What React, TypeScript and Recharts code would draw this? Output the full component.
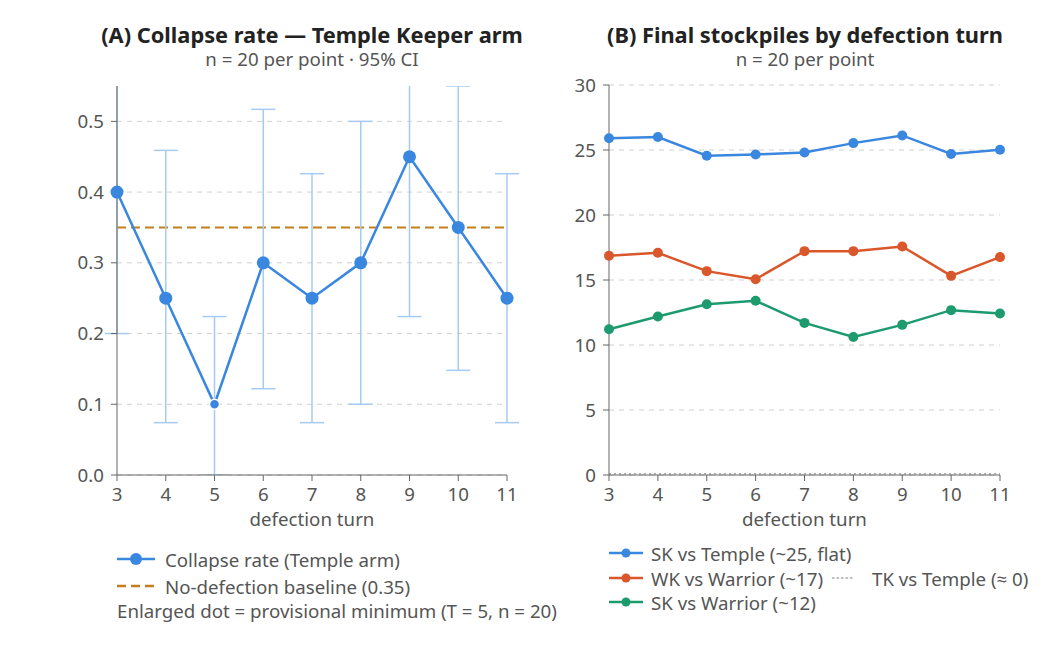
import React from "react";
import {
  LineChart,
  Line,
  XAxis,
  YAxis,
  CartesianGrid,
  ReferenceLine,
  ErrorBar,
} from "recharts";

// ---------- Data ----------
const turns = [3, 4, 5, 6, 7, 8, 9, 10, 11];
const collapseRate = [0.4, 0.25, 0.1, 0.3, 0.25, 0.3, 0.45, 0.35, 0.25];
const ciLow = [0.2, 0.074, 0.0, 0.122, 0.074, 0.1, 0.224, 0.148, 0.074];
const ciHigh = [0.6, 0.459, 0.224, 0.517, 0.426, 0.5, 0.65, 0.55, 0.426];
const baseline = 0.35;
const leftYTicks = [0, 0.1, 0.2, 0.3, 0.4, 0.5];

const skTemple = [25.9, 26.0, 24.56, 24.66, 24.81, 25.53, 26.12, 24.69, 25.02];
const wkWarrior = [16.86, 17.09, 15.68, 15.06, 17.22, 17.22, 17.58, 15.32, 16.76];
const skWarrior = [11.21, 12.19, 13.14, 13.4, 11.7, 10.62, 11.55, 12.68, 12.42];
const tkTemple = [0.1, 0.1, 0.1, 0.1, 0.1, 0.1, 0.1, 0.1, 0.1];
const rightYTicks = [0, 5, 10, 15, 20, 25, 30];

const leftData = turns.map((t, i) => ({
  turn: t,
  rate: collapseRate[i],
  ci: [collapseRate[i] - ciLow[i], ciHigh[i] - collapseRate[i]],
}));

const rightData = turns.map((t, i) => ({
  turn: t,
  skTemple: skTemple[i],
  wkWarrior: wkWarrior[i],
  skWarrior: skWarrior[i],
  tkTemple: tkTemple[i],
}));

// ---------- Styles ----------
const FONT = "'Noto Sans', 'Open Sans', sans-serif";
const BLUE = "#3a87e0";
const CI_BLUE = "#a6cbf1";
const BASE_ORANGE = "#c47f1c";
const ORANGE = "#d9572b";
const GREEN = "#1d9b6e";
const GRAY_TXT = "#555";
const AXIS = "#666";
const FS = 18.7;

const tickStyle = { fontSize: FS, fill: GRAY_TXT, fontFamily: FONT };

const renderLeftDot = (props: any) => {
  const { cx, cy, payload, index } = props;
  const small = payload.turn === 5;
  return (
    <circle
      key={`d-${index}`}
      cx={cx}
      cy={cy}
      r={small ? 5 : 6.5}
      fill={BLUE}
      stroke="#fff"
      strokeWidth={small ? 1.5 : 0}
    />
  );
};

const abs = (left: number, top: number): React.CSSProperties => ({
  position: "absolute",
  left,
  top,
});

const LegendRow = ({
  x,
  y,
  color,
  dash,
  dot,
  label,
  iconW = 38,
  dotR = 5,
  gap = 10,
  thin = false,
}: {
  x: number;
  y: number;
  color: string;
  dash?: string;
  dot?: boolean;
  label: string;
  iconW?: number;
  dotR?: number;
  gap?: number;
  thin?: boolean;
}) => (
  <div
    style={{
      ...abs(x, y - 12),
      height: 24,
      display: "flex",
      alignItems: "center",
      whiteSpace: "nowrap",
      fontFamily: FONT,
      fontSize: FS,
      color: GRAY_TXT,
    }}
  >
    <svg width={iconW} height={24} style={{ marginRight: gap, flex: "none" }}>
      <line
        x1={0}
        y1={12}
        x2={iconW}
        y2={12}
        stroke={color}
        strokeWidth={thin ? 1.5 : 2.5}
        strokeDasharray={dash}
      />
      {dot && <circle cx={iconW / 2} cy={12} r={dotR} fill={color} />}
    </svg>
    <span>{label}</span>
  </div>
);

const titleStyle: React.CSSProperties = {
  width: 560,
  textAlign: "center",
  fontSize: 21.8,
  fontWeight: 700,
  color: "#222",
  lineHeight: "26px",
  height: 26,
  whiteSpace: "nowrap",
};
const subStyle: React.CSSProperties = {
  width: 560,
  textAlign: "center",
  fontSize: FS,
  color: GRAY_TXT,
  lineHeight: "22px",
  height: 22,
  whiteSpace: "nowrap",
};

export default function App() {
  return (
    <div
      style={{
        position: "absolute",
        left: 0,
        top: 0,
        width: 1063,
        height: 648,
        background: "#fff",
        fontFamily: FONT,
      }}
    >
      {/* Titles */}
      <div style={{ ...abs(32, 22), ...titleStyle }}>
        (A) Collapse rate — Temple Keeper arm
      </div>
      <div style={{ ...abs(32, 48), ...subStyle }}>
        n = 20 per point · 95% CI
      </div>
      <div style={{ ...abs(525, 22), ...titleStyle }}>
        (B) Final stockpiles by defection turn
      </div>
      <div style={{ ...abs(525, 48), ...subStyle }}>n = 20 per point</div>

      {/* Left chart */}
      <div style={abs(0, 0)}>
        <LineChart
          width={530}
          height={540}
          data={leftData}
          margin={{ top: 86, right: 23, bottom: 12, left: 67 }}
        >
          <CartesianGrid
            vertical={false}
            horizontalValues={leftYTicks}
            stroke="#d0d0d0"
            strokeDasharray="5 5"
          />
          <XAxis
            dataKey="turn"
            type="number"
            domain={[3, 11]}
            ticks={turns}
            tick={tickStyle}
            stroke={AXIS}
            tickSize={6}
            tickMargin={7}
            height={53}
            label={{
              value: "defection turn",
              position: "insideBottom",
              offset: 2,
              style: { fontSize: FS, fill: GRAY_TXT, fontFamily: FONT },
            }}
          />
          <YAxis
            type="number"
            domain={[0, 0.55]}
            allowDataOverflow
            ticks={leftYTicks}
            tickFormatter={(v: number) => v.toFixed(1)}
            tick={tickStyle}
            stroke={AXIS}
            tickSize={6}
            tickMargin={7}
            width={50}
          />
          <ReferenceLine
            y={baseline}
            stroke={BASE_ORANGE}
            strokeWidth={2}
            strokeDasharray="9 5"
          />
          <Line
            id="ciline"
            dataKey="rate"
            stroke="none"
            dot={false}
            activeDot={false}
            isAnimationActive={false}
            legendType="none"
          >
            <ErrorBar
              dataKey="ci"
              direction="y"
              width={12}
              stroke={CI_BLUE}
              strokeWidth={1.5}
              clipPath="url(#clipPath-ciline)"
            />
          </Line>
          <Line
            dataKey="rate"
            stroke={BLUE}
            strokeWidth={2.5}
            dot={renderLeftDot}
            activeDot={false}
            isAnimationActive={false}
          />
        </LineChart>
      </div>

      {/* Right chart */}
      <div style={abs(540, 0)}>
        <LineChart
          width={500}
          height={540}
          data={rightData}
          margin={{ top: 85, right: 40, bottom: 12, left: 29 }}
        >
          <CartesianGrid
            vertical={false}
            horizontalValues={rightYTicks}
            stroke="#d0d0d0"
            strokeDasharray="5 5"
          />
          <XAxis
            dataKey="turn"
            type="number"
            domain={[3, 11]}
            ticks={turns}
            tick={tickStyle}
            stroke={AXIS}
            tickSize={6}
            tickMargin={7}
            height={53}
            label={{
              value: "defection turn",
              position: "insideBottom",
              offset: 2,
              style: { fontSize: FS, fill: GRAY_TXT, fontFamily: FONT },
            }}
          />
          <YAxis
            type="number"
            domain={[0, 30]}
            ticks={rightYTicks}
            tick={tickStyle}
            stroke={AXIS}
            tickSize={6}
            tickMargin={7}
            width={40}
          />
          <Line
            dataKey="tkTemple"
            stroke="#aaaaaa"
            strokeWidth={1.5}
            strokeDasharray="2 3"
            dot={false}
            activeDot={false}
            isAnimationActive={false}
          />
          <Line
            dataKey="skTemple"
            stroke={BLUE}
            strokeWidth={2.5}
            dot={{ r: 5, fill: BLUE, stroke: BLUE, strokeWidth: 0 }}
            activeDot={false}
            isAnimationActive={false}
          />
          <Line
            dataKey="wkWarrior"
            stroke={ORANGE}
            strokeWidth={2.5}
            dot={{ r: 5, fill: ORANGE, stroke: ORANGE, strokeWidth: 0 }}
            activeDot={false}
            isAnimationActive={false}
          />
          <Line
            dataKey="skWarrior"
            stroke={GREEN}
            strokeWidth={2.5}
            dot={{ r: 5, fill: GREEN, stroke: GREEN, strokeWidth: 0 }}
            activeDot={false}
            isAnimationActive={false}
          />
        </LineChart>
      </div>

      {/* Left legend */}
      <LegendRow
        x={117}
        y={559}
        color={BLUE}
        dot
        dotR={6}
        label="Collapse rate (Temple arm)"
      />
      <LegendRow
        x={117}
        y={586}
        color={BASE_ORANGE}
        dash="9 5"
        label="No-defection baseline (0.35)"
      />
      <div
        style={{
          ...abs(117, 599),
          fontSize: FS,
          color: GRAY_TXT,
          lineHeight: "24px",
          whiteSpace: "nowrap",
        }}
      >
        Enlarged dot = provisional minimum (T = 5, n = 20)
      </div>

      {/* Right legend */}
      <LegendRow
        x={609}
        y={553}
        color={BLUE}
        dot
        iconW={34}
        dotR={4.5}
        gap={8}
        label="SK vs Temple (~25, flat)"
      />
      <LegendRow
        x={609}
        y={578}
        color={ORANGE}
        dot
        iconW={34}
        dotR={4.5}
        gap={8}
        label="WK vs Warrior (~17)"
      />
      <LegendRow
        x={609}
        y={602}
        color={GREEN}
        dot
        iconW={34}
        dotR={4.5}
        gap={8}
        label="SK vs Warrior (~12)"
      />
      <LegendRow
        x={832}
        y={578}
        color="#aaaaaa"
        dash="2.5 2"
        iconW={22}
        gap={18}
        thin
        label="TK vs Temple (≈ 0)"
      />
    </div>
  );
}
